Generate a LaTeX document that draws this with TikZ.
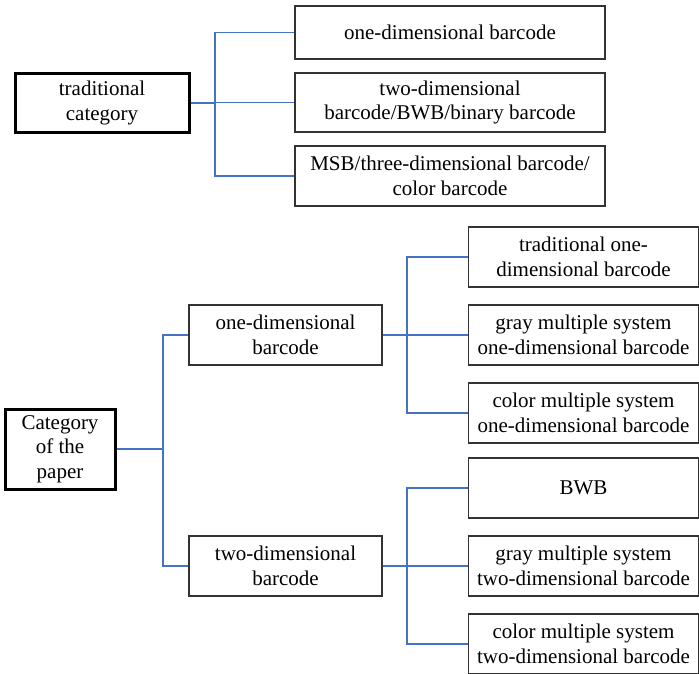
\documentclass[tikz,border=0pt]{standalone}
\usepackage{fontspec}
\setmainfont{Liberation Serif}
\begin{document}
\begin{tikzpicture}[x=1pt,y=-1pt,
  every node/.style={font=\fontsize{21}{24.5}\selectfont},
  box/.style={draw=black!80,line width=1.1pt,align=center,inner sep=0pt,
    minimum width=#1,minimum height=60pt},
  rootbox/.style={draw=black,line width=3pt,align=center,inner sep=0pt},
  link/.style={draw={rgb,255:red,68;green,114;blue,196},line width=1.8pt}]
\clip (0,0) rectangle (699,673);
\useasboundingbox (0,0) rectangle (699,673);

% ---- traditional classification ----
\node[rootbox,minimum width=174pt,minimum height=59pt] (trad) at (102,103) {traditional\\category};
\node[box=310pt,minimum height=53pt] (t1) at (450,32.5) {one-dimensional barcode};
\node[box=310pt,minimum height=59pt] (t2) at (450,102.5) {two-dimensional\\barcode/BWB/binary barcode};
\node[box=310pt] (t3) at (450,176) {MSB/three-dimensional barcode/\\color barcode};

\coordinate (jt) at (215,103);
\draw[link] (trad.east) -- (jt);
\draw[link] (jt) |- (t1.west);
\draw[link] (jt) |- (t2.west);
\draw[link] (jt) |- (t3.west);

% ---- classification used in this paper ----
\node[rootbox,minimum width=110pt,minimum height=80pt] (paper) at (60,449) {Category\\of the\\paper};
\node[box=193pt] (one) at (285.5,335) {one-dimensional\\barcode};
\node[box=193pt] (two) at (285.5,566) {two-dimensional\\barcode};

\node[box=230pt] (o1) at (583.5,257) {traditional one-\\dimensional barcode};
\node[box=230pt] (o2) at (583.5,335) {gray multiple system\\one-dimensional barcode};
\node[box=230pt] (o3) at (583.5,413) {color multiple system\\one-dimensional barcode};

\node[box=230pt] (w1) at (583.5,488) {BWB};
\node[box=230pt] (w2) at (583.5,566) {gray multiple system\\two-dimensional barcode};
\node[box=230pt] (w3) at (583.5,644) {color multiple system\\two-dimensional barcode};

\coordinate (jp) at (163,449);
\draw[link] (paper.east) -- (jp);
\draw[link] (jp) |- (one.west);
\draw[link] (jp) |- (two.west);

\coordinate (jo) at (407,335);
\draw[link] (one.east) -- (jo);
\draw[link] (jo) |- (o1.west);
\draw[link] (jo) |- (o2.west);
\draw[link] (jo) |- (o3.west);

\coordinate (jw) at (407,566);
\draw[link] (two.east) -- (jw);
\draw[link] (jw) |- (w1.west);
\draw[link] (jw) |- (w2.west);
\draw[link] (jw) |- (w3.west);
\end{tikzpicture}
\end{document}
